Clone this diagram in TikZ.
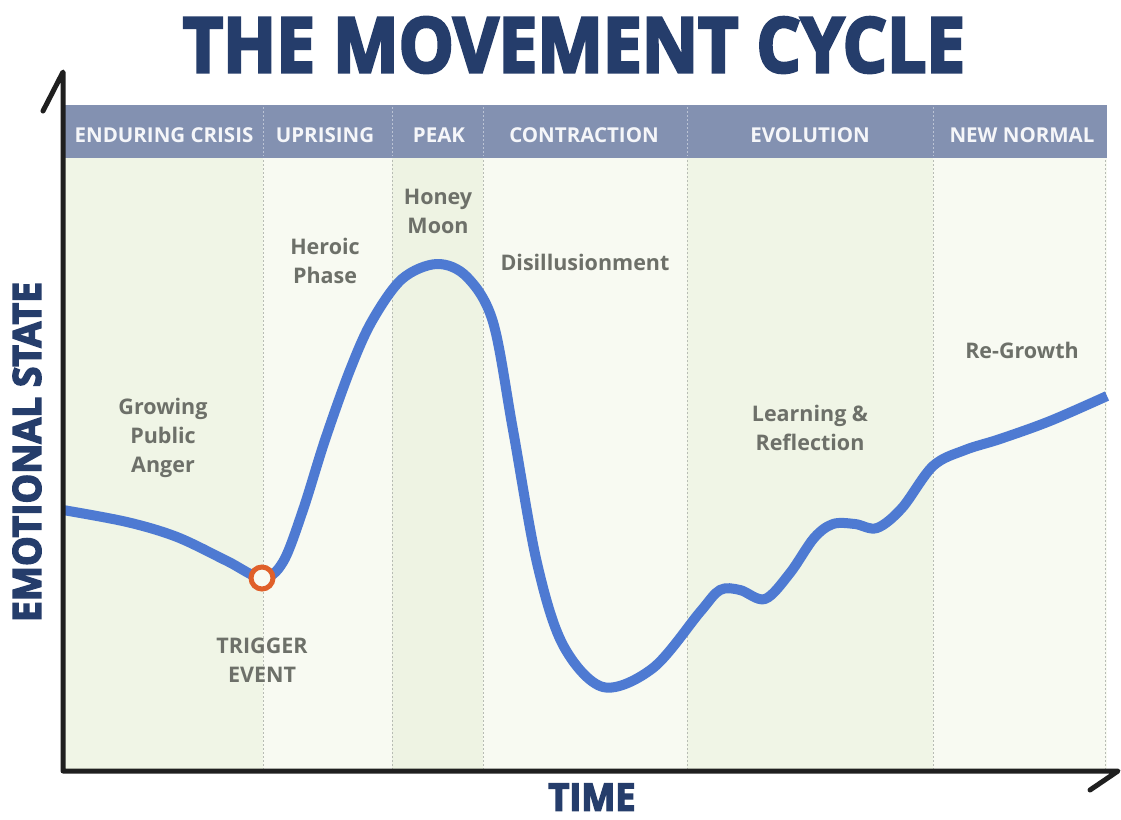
\documentclass[tikz,border=0pt]{standalone}
\usepackage{fontspec}
\usepackage{graphicx}
\setmainfont{Open Sans}
\newfontfamily\titlefont[FakeBold=4]{Open Sans}
\definecolor{navy}{HTML}{253D6B}
\definecolor{band}{HTML}{8391B1}
\definecolor{curveblue}{HTML}{4E7AD2}
\definecolor{lblgray}{HTML}{6D7069}
\definecolor{trig}{HTML}{E0602A}
\definecolor{colA}{HTML}{F0F5E6}
\definecolor{colB}{HTML}{F8FAF2}
\definecolor{colC}{HTML}{EEF3E3}
\definecolor{divgray}{HTML}{B8BCB4}
\begin{document}
\begin{tikzpicture}[x=1pt,y=-1pt,
  lbl/.style={text=lblgray, font=\bfseries\fontsize{21.5}{29}\selectfont, align=center, inner sep=0pt},
  hdr/.style={text=white!92!band, font=\bfseries\fontsize{20.5}{22}\selectfont, inner sep=0pt},
  divider/.style={divgray, line width=1pt, dash pattern=on 1.5pt off 2.5pt},
  hdivider/.style={white!45!band, line width=1pt, dash pattern=on 1.5pt off 2.5pt},
  axis/.style={black!88, line width=5pt, line cap=round, line join=round},
  bigtext/.style={text=navy, inner sep=0pt}]
\useasboundingbox (0,0) rectangle (1121,819);
\fill[white] (0,0) rectangle (1121,819);
% column backgrounds
\fill[colA] (63,158) rectangle (263,771);
\fill[colB] (263,158) rectangle (392,771);
\fill[colC] (392,158) rectangle (483,771);
\fill[colB] (483,158) rectangle (687,771);
\fill[colA] (687,158) rectangle (933,771);
\fill[colB] (933,158) rectangle (1107,771);
% header band
\fill[band] (63,105) rectangle (1107,158);
\foreach \x in {263,392,483,687,933} {
  \draw[hdivider] (\x,107) -- (\x,156);
  \draw[divider] (\x,160) -- (\x,770);
}
\draw[divider] (1105,160) -- (1105,770);
% header labels
\node[hdr] (h1) at (164,135) {ENDURING CRISIS};
\node[hdr] (h2) at (325,135) {UPRISING};
\node[hdr] (h3) at (439,135) {PEAK};
\node[hdr] (h4) at (584,135) {CONTRACTION};
\node[hdr] (h5) at (810,135) {EVOLUTION};
\node[hdr] (h6) at (1022,135) {NEW NORMAL};
% title and axis titles
\node[bigtext] (title) at (574,45) {\resizebox{782pt}{55pt}{\titlefont\bfseries THE MOVEMENT CYCLE}};
\node[bigtext, rotate=90] (ylabel) at (27,452) {\resizebox{340pt}{28pt}{\titlefont\bfseries EMOTIONAL STATE}};
\node[bigtext] (xlabel) at (592,797) {\resizebox{87pt}{27pt}{\titlefont\bfseries TIME}};
% phase labels
\node[lbl] (anger) at (163,438) {Growing\\Public\\Anger};
\node[lbl] (trigtxt) at (262,660) {TRIGGER\\EVENT};
\node[lbl] (heroic) at (325,261) {Heroic\\Phase};
\node[lbl] (honey) at (438,211) {Honey\\Moon};
\node[lbl] (disill) at (585,262) {Disillusionment};
\node[lbl] (learn) at (810,428) {Learning \&\\Reflection};
\node[lbl] (regrow) at (1022,350) {Re-Growth};
% curve
\draw[curveblue, line width=10pt, line join=round] plot[smooth, tension=0.55] coordinates {
  (63,510) (127,522) (177,537) (227,561) (262,578) (283,562) (303,510) (325,440)
  (350,370) (372,321) (402,279) (437,264) (467,277) (493,322) (513,430) (537,563)
  (563,645) (603,687) (653,668) (700,612) (720,590) (740,590) (765,599) (790,573)
  (814,538) (833,524) (855,524) (877,528) (902,508) (933,466) (965,450) (1000,439)
  (1050,421) (1107,396)};
% trigger marker
\node[circle, draw=trig, line width=5pt, fill=colB, minimum size=22pt, inner sep=0pt] (trigger) at (262,578) {};
% axes
\coordinate (origin) at (63,771);
\coordinate (ytop) at (63,72);
\coordinate (ybarb) at (43,111);
\coordinate (xend) at (1118,771);
\coordinate (xbarb) at (1090,790);
\draw[axis] (ybarb) -- (ytop) -- (origin) -- (xend) -- (xbarb);
\end{tikzpicture}
\end{document}
